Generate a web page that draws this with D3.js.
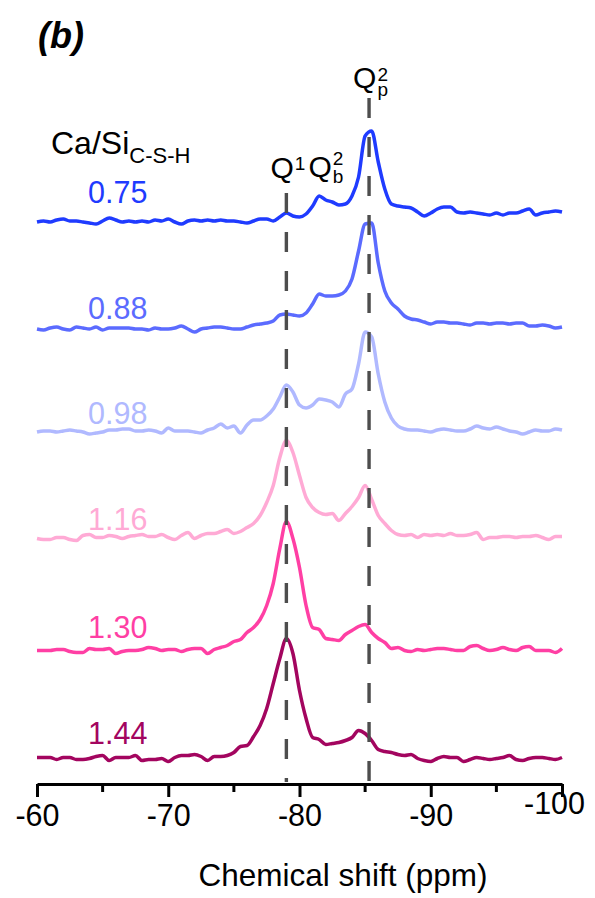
<!DOCTYPE html>
<html>
<head>
<meta charset="utf-8">
<script src="https://cdn.jsdelivr.net/npm/d3@7"></script>
<style>
  html, body { margin: 0; padding: 0; background: #fff; }
  svg { display: block; font-family: Arial, "Liberation Sans", sans-serif; }
</style>
</head>
<body>
<div id="chart"></div>
<script>
// Ca/Si ratios and colours, top spectrum first
const ratios = ['0.75', '0.88', '0.98', '1.16', '1.30', '1.44'];
const lineColors = ['#1f3bff', '#5b6bff', '#b0b9ff', '#ffaad5', '#ff3fa4', '#a3055f'];
// vertical stacking offset of each spectrum (intensity units)
const offsets = [562, 455, 352, 246.5, 133.5, 25.5];

// intensities read every 0.5 ppm from -60 to -100 ppm
const i075 = [0, 1, 0, 2, 3, 1, 1, 0, -1, -2,
  1, 4, 2, 0, 1, 0, 1, 0, 2, 1,
  3, 0, -2, 1, 2, 1, 2, 1, 2, 1,
  1, 0, -1, 1, 3, 3, 1, 5, 9, 6,
  5, 8, 16, 26, 22, 20, 17, 18, 26, 45,
  86, 91, 60, 33, 18, 16, 15, 14, 10, 6,
  9, 13, 15, 15, 10, 9, 10, 9, 8, 7,
  9, 7, 9, 9, 11, 13, 7, 9, 10, 11,
  10];
const i088 = [0, -1, 1, 2, 0, -1, 2, 1, 0, 2,
  -1, 1, 1, 1, 1, 0, 0, -1, 1, 0,
  0, 1, 3, 0, -3, 0, 1, 2, 2, 1,
  0, 0, 2, 4, 5, 6, 8, 14, 15, 14,
  13, 16, 25, 35, 33, 33, 34, 38, 50, 78,
  105, 106, 66, 38, 26, 20, 13, 10, 9, 7,
  5, 7, 7, 6, 6, 5, 4, 6, 6, 5,
  6, 6, 5, 6, 6, 3, 3, 4, 3, 1,
  2];
const i098 = [0, 1, 1, 0, 1, 2, 1, 0, -2, -1,
  0, 2, 2, 3, 3, 1, 1, 2, 1, -1,
  4, 1, 1, 1, 0, -1, 2, 4, 8, 4,
  6, -1, 7, 12, 12, 16, 23, 35, 47, 40,
  27, 24, 27, 33, 32, 30, 25, 38, 43, 68,
  100, 95, 58, 30, 14, 6, 3, 2, 2, 1,
  0, 2, 3, 2, 1, 1, 3, 6, 4, 3,
  5, 3, 1, 0, -2, 0, 2, 1, 1, 3,
  2];
const i116 = [-1, -2, -2, 0, 0, -2, -3, 2, 3, 0,
  0, 2, 1, -1, 1, 2, 3, 1, 1, 3,
  0, -2, 2, 5, -1, 2, 4, 4, 6, 8,
  4, 6, 10, 14, 22, 35, 52, 80, 97, 85,
  62, 40, 30, 25, 23, 24, 17, 24, 31, 40,
  52, 38, 22, 14, 7, 3, 2, 3, 0, 3,
  2, 3, 2, 4, 2, 2, 3, 5, -2, 0,
  0, 1, 1, 0, 1, 1, 2, 0, -2, 1,
  1];
const i130 = [0, 0, 0, 1, 1, -1, -2, -2, 2, 1,
  1, 2, -3, -1, 0, 0, 1, 3, 2, 0,
  1, 1, -1, 1, 2, 2, -3, 1, 3, 5,
  9, 11, 18, 23, 31, 45, 67, 102, 129, 112,
  83, 45, 23, 21, 12, 11, 10, 16, 20, 24,
  26, 18, 12, 8, 2, 3, 0, -1, 1, 0,
  1, 2, 2, 1, 0, 0, 4, 5, 2, 0,
  1, 3, 1, 0, 3, 4, 0, 0, 0, -2,
  2];
const i144 = [1, 1, 1, -1, 1, 1, -1, -1, 0, 2,
  3, -2, 1, 1, 1, 3, -2, -1, -1, 0,
  -3, 1, 3, 3, 4, 2, -2, 2, 2, 3,
  6, 12, 13, 22, 33, 50, 75, 100, 120, 105,
  68, 40, 21, 19, 14, 15, 16, 18, 21, 28,
  25, 18, 9, 7, 6, 4, 3, 4, 0, -2,
  -3, 0, 2, 1, 1, -3, -1, 1, 0, -1,
  0, 1, 3, -1, -2, 0, 1, 1, 0, -1,
  1];
const spectra = [i075, i088, i098, i116, i130, i144];

const majorTicks = [-60, -70, -80, -90, -100];
const minorTicks = [-65, -75, -85, -95];

// reference peak positions (ppm) and top of their marker lines (intensity)
const markerPpm = [-79, -85.3];
const markerTop = [591, 686];

const W = 595;
const H = 898;

const svg = d3.select('#chart').append('svg')
  .attr('width', W)
  .attr('height', H);

svg.append('rect').attr('width', W).attr('height', H).attr('fill', '#fff');

const x = d3.scaleLinear().domain([-60, -100]).range([37, 562]);
const y = d3.scaleLinear().domain([0, 724]).range([784, 60]);

const ppmGrid = d3.range(i075.length).map((i) => -60 - i * 0.5);

// spectra
spectra.forEach((vals, k) => {
  const line = d3.line()
    .x((d, i) => x(ppmGrid[i]))
    .y((d) => y(d + offsets[k]))
    .curve(d3.curveMonotoneX);

  svg.append('path')
    .datum(vals)
    .attr('d', line)
    .attr('fill', 'none')
    .attr('stroke', lineColors[k])
    .attr('stroke-width', 3.5)
    .attr('stroke-linejoin', 'round');
});

// ratio labels
const labelLift = [19, 10, 8, 8, 13, 15];
svg.append('g')
  .selectAll('text')
  .data(ratios)
  .join('text')
  .attr('x', 88)
  .attr('y', (d, k) => y(offsets[k]) - labelLift[k])
  .attr('fill', (d, k) => lineColors[k])
  .attr('font-size', 30.5)
  .text((d) => d);

// dashed marker lines
svg.append('g')
  .selectAll('line')
  .data(markerPpm)
  .join('line')
  .attr('x1', (d) => x(d))
  .attr('x2', (d) => x(d))
  .attr('y1', (d, k) => y(markerTop[k]))
  .attr('y2', y(2))
  .attr('stroke', '#4d4d4d')
  .attr('stroke-width', 3.4)
  .attr('stroke-dasharray', '20,19');

// x axis
const axis = svg.append('g')
  .attr('transform', `translate(0,${y(0)})`)
  .call(d3.axisBottom(x)
    .tickValues(majorTicks)
    .tickFormat((d) => String(d))
    .tickSize(13)
    .tickSizeOuter(0)
    .tickPadding(7));

axis.select('.domain').attr('stroke', '#000').attr('stroke-width', 3);
axis.selectAll('.tick line').attr('stroke', '#000').attr('stroke-width', 3);
axis.selectAll('.tick text')
  .attr('fill', '#000')
  .attr('font-size', 30.5)
  .attr('font-family', 'Arial, "Liberation Sans", sans-serif');

// last label sits higher and pulled in, as in the original
axis.selectAll('.tick text')
  .filter((d) => d === -100)
  .attr('dx', -8)
  .attr('y', 8);

axis.append('g')
  .selectAll('line')
  .data(minorTicks)
  .join('line')
  .attr('x1', (d) => x(d))
  .attr('x2', (d) => x(d))
  .attr('y1', 0)
  .attr('y2', 8)
  .attr('stroke', '#000')
  .attr('stroke-width', 3);

svg.append('text')
  .attr('x', 343)
  .attr('y', 886)
  .attr('text-anchor', 'middle')
  .attr('font-size', 31.5)
  .text('Chemical shift (ppm)');

// panel letter
svg.append('text')
  .attr('x', 38)
  .attr('y', 48)
  .attr('font-size', 36)
  .attr('font-weight', 'bold')
  .attr('font-style', 'italic')
  .text('(b)');

// Ca/Si heading
const head = svg.append('text')
  .attr('x', 51)
  .attr('y', 154)
  .attr('font-size', 32);
head.append('tspan').text('Ca/Si');
head.append('tspan').attr('font-size', 22).attr('dy', 9).text('C-S-H');

// peak labels
function qLabel(xPos, yBase, sup, sub, supDy, subDy) {
  const g = svg.append('g');
  const q = g.append('text')
    .attr('x', xPos)
    .attr('y', yBase)
    .attr('font-size', 30)
    .text('Q');
  const qw = q.node().getComputedTextLength();
  g.append('text')
    .attr('x', xPos + qw + 1)
    .attr('y', yBase + supDy)
    .attr('font-size', 19)
    .text(sup);
  if (sub) {
    g.append('text')
      .attr('x', xPos + qw + 1)
      .attr('y', yBase + subDy)
      .attr('font-size', 19)
      .text(sub);
  }
}

qLabel(x(markerPpm[0]) - 16, 178, '1', null, -8, 0);
qLabel(x(markerPpm[0]) + 22, 177, '2', 'b', -12, 6);
qLabel(x(markerPpm[1]) - 16, 88, '2', 'p', -7, 8);
</script>
</body>
</html>
